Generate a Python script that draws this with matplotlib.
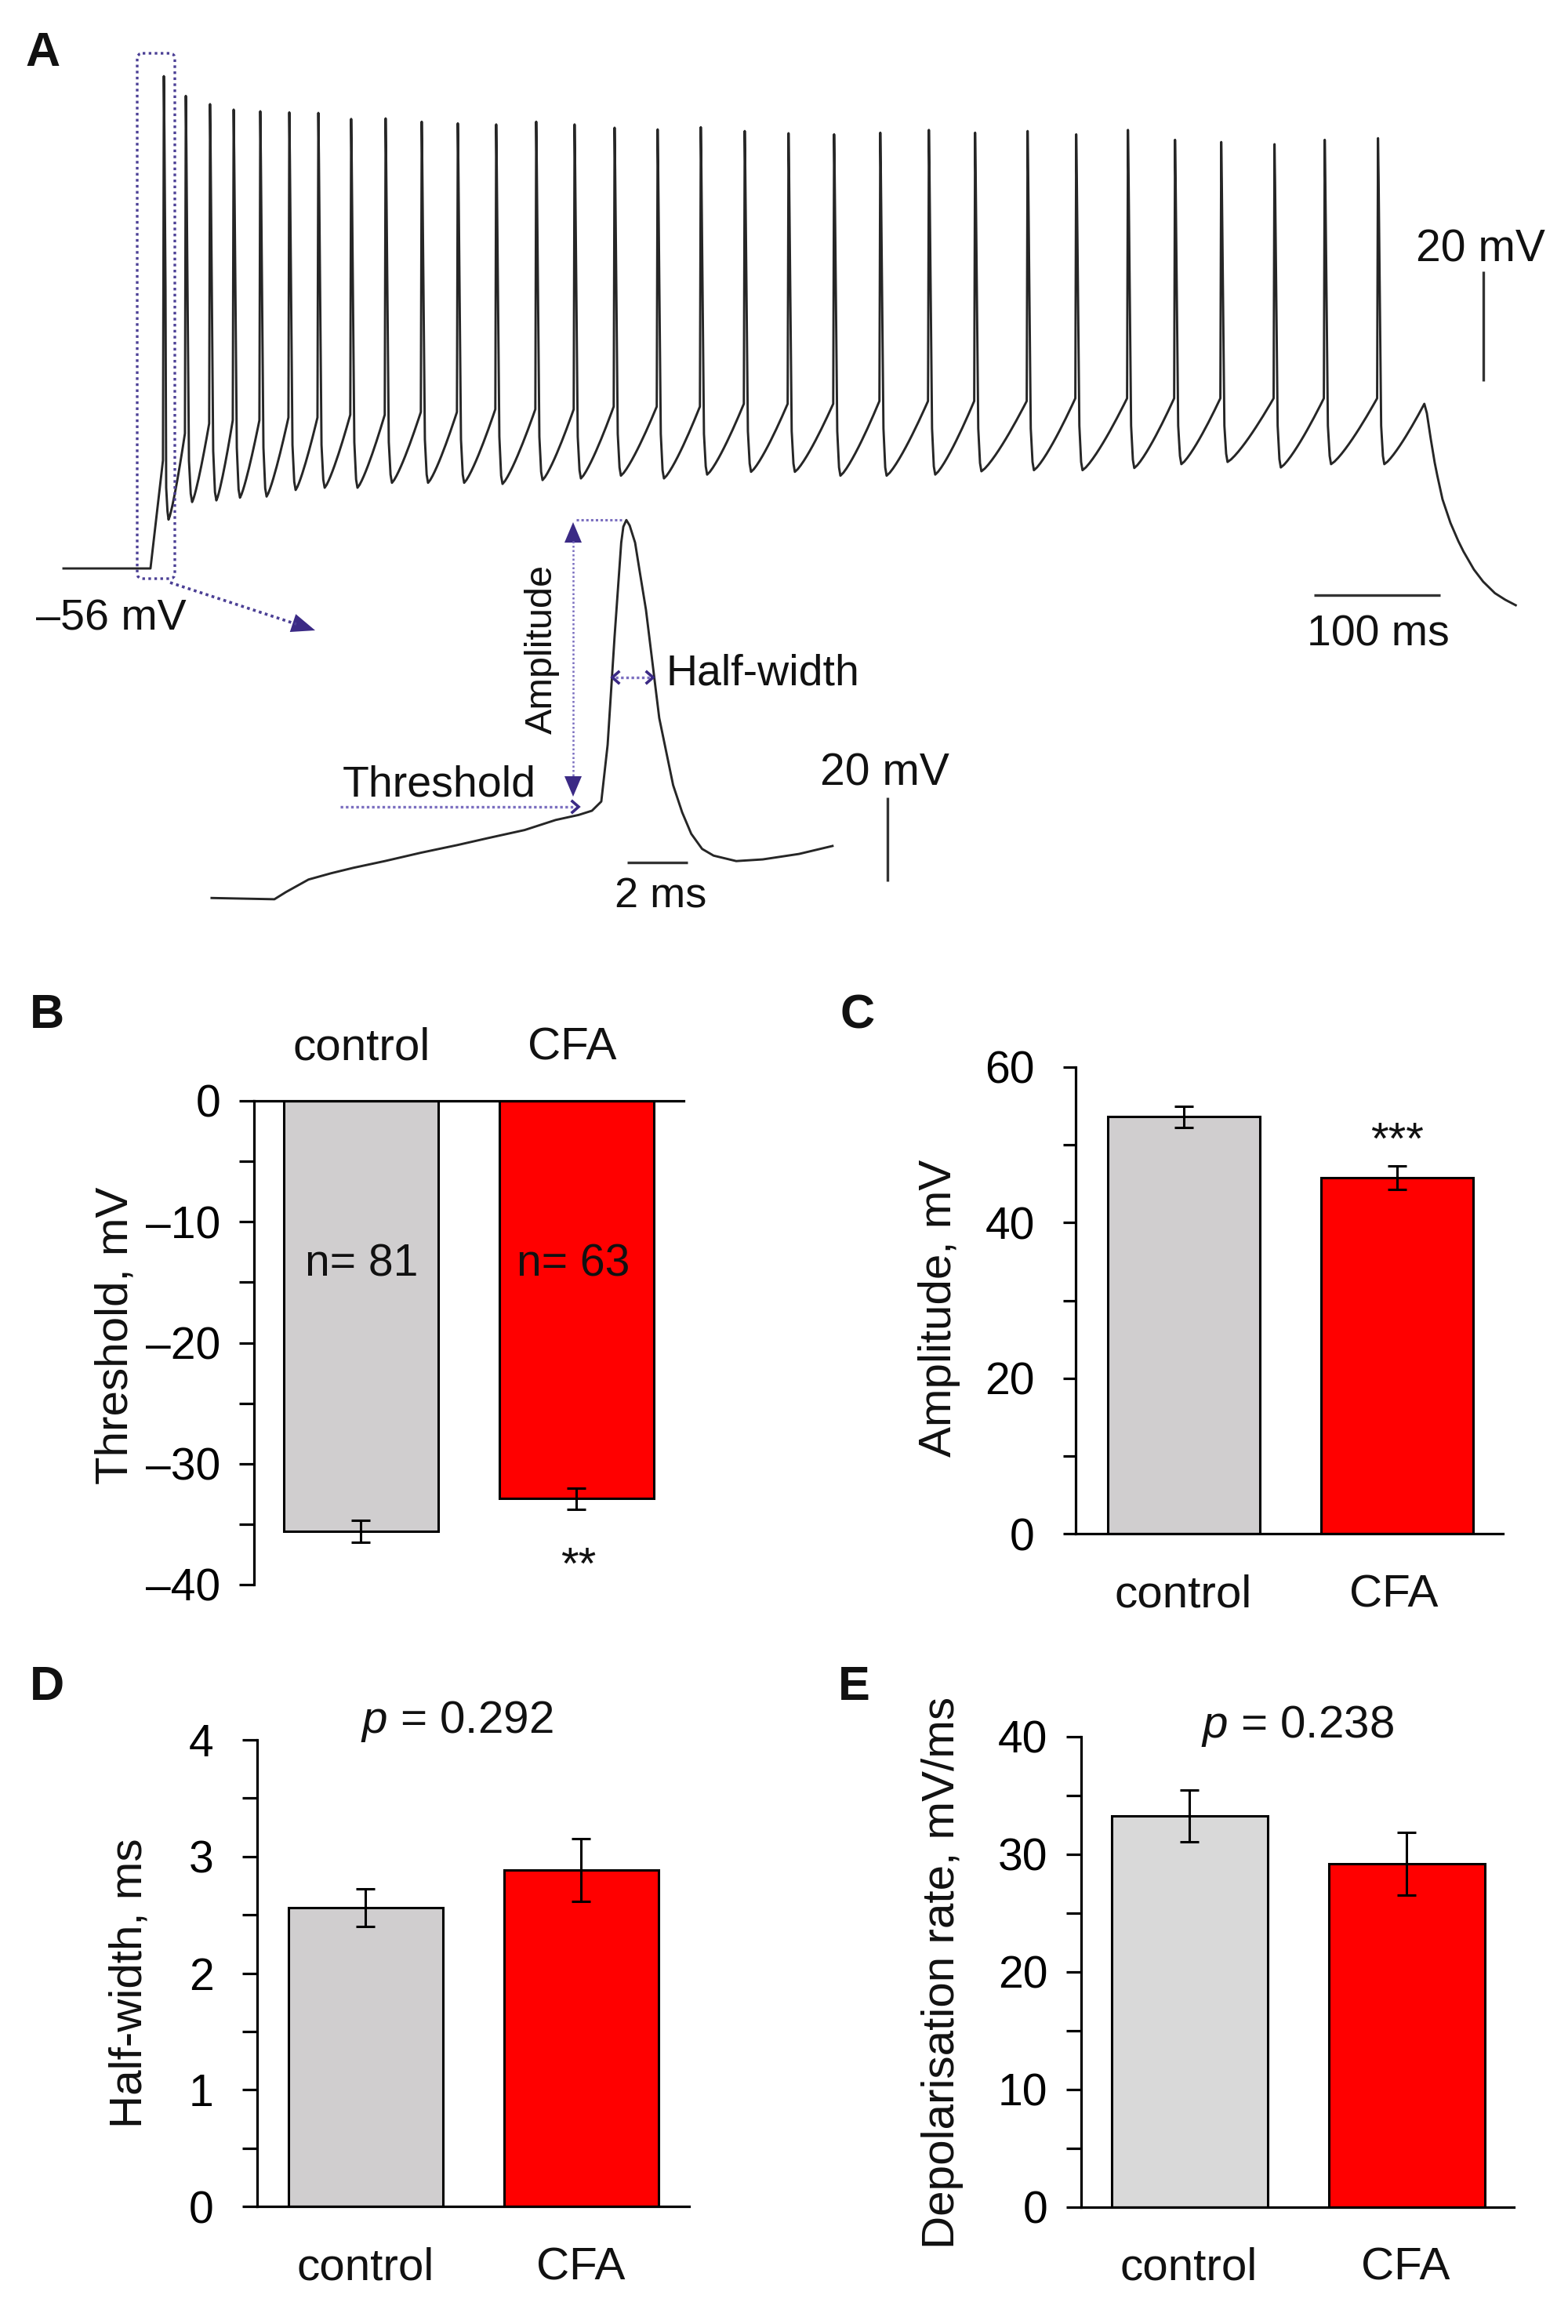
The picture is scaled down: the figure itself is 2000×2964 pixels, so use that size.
import numpy as np
import matplotlib
matplotlib.use('Agg')
import matplotlib.pyplot as plt
from matplotlib.patches import FancyBboxPatch
from matplotlib.ticker import FuncFormatter, MultipleLocator

plt.rcParams['font.family'] = ['Liberation Sans', 'DejaVu Sans']
plt.rcParams['mathtext.fontset'] = 'custom'
plt.rcParams['mathtext.it'] = 'Liberation Sans:italic'
plt.rcParams['mathtext.rm'] = 'Liberation Sans'

W, H = 2000, 2964

# ---------------- Panel A data ----------------
baseline_mv = -56.0
stim_on_ms = 68.9
spike_times = [79.5, 96.9, 116.1, 134.8, 155.9, 178.9, 201.9, 227.9, 255.2, 283.8,
               312.4, 342.8, 374.5, 404.9, 436.6, 470.7, 504.9, 539.7, 574.4, 610.5,
               647.1, 685.6, 722.2, 763.8, 802.3, 843.3, 880.6, 917.2, 959.4, 999.2, 1041.4]
spike_peaks = [33.7, 30.1, 28.6, 27.6, 27.3, 27.1, 27.0, 25.9, 26.0, 25.4,
               25.1, 24.9, 25.4, 24.9, 24.3, 24.0, 24.4, 23.7, 23.3, 23.1,
               23.4, 23.9, 23.4, 23.7, 23.1, 23.9, 22.1, 21.7, 21.3, 22.1, 22.4]
spike_thresholds = [-36.3, -31.4, -29.6, -29.0, -29.0, -28.5, -28.5, -28.0, -28.0, -27.5,
                    -27.5, -27.0, -27.0, -27.0, -26.5, -26.5, -26.5, -26.0, -26.0, -26.0,
                    -25.5, -25.5, -25.5, -25.5, -25.0, -25.0, -25.0, -25.0, -25.0, -25.0, -25.0]
ahp_troughs = [-47.1, -43.9, -43.6, -43.1, -42.9, -41.7, -41.3, -41.3, -40.4, -40.4,
               -40.4, -40.6, -39.9, -39.6, -39.1, -39.6, -38.9, -38.4, -38.4, -39.1,
               -39.1, -38.9, -38.3, -38.1, -38.1, -37.7, -37.0, -36.6, -37.6, -37.0, -37.0]
offset_t = [1078.1, 1080.1, 1083.2, 1086.3, 1088.4, 1092.5, 1098.8, 1105.0, 1109.1,
            1117.4, 1124.7, 1134.0, 1142.2, 1150.5]
offset_v = [-26.0, -27.7, -32.4, -36.7, -39.1, -43.4, -47.7, -51.0, -52.9,
            -56.2, -58.4, -60.5, -61.7, -62.7]

# inset: first spike, expanded (ms relative to step onset, mV)
inset_t = [-2.08, 0.0, 0.38, 1.13, 1.88, 2.62, 3.66, 4.86, 6.05, 7.09, 8.29, 9.32, 10.08,
           10.52, 10.83, 11.04, 11.27, 11.49, 11.56, 11.66, 11.77, 11.95, 12.09, 12.31,
           12.75, 13.21, 13.51, 13.81, 14.17, 14.55, 15.30, 16.18, 17.38, 18.49]
inset_v = [-55.8, -56.1, -54.4, -51.4, -49.9, -48.6, -47.0, -45.0, -43.2, -41.5, -39.6, -37.2, -36.0,
           -35.0, -32.8, -19.3, 6.5, 28.9, 32.7, 34.3, 33.0, 28.9, 22.6, 12.9,
           -12.9, -28.9, -35.4, -40.5, -44.1, -45.7, -47.0, -46.6, -45.3, -43.4]

# ---------------- Bar data ----------------
groups = ['control', 'CFA']
threshold_mean = [-35.6, -32.9]
threshold_sem = [0.9, 0.85]
threshold_n = [81, 63]
amplitude_mean = [53.6, 45.8]
amplitude_sem = [1.4, 1.5]
halfwidth_mean = [2.56, 2.885]
halfwidth_sem = [0.16, 0.27]
deprate_mean = [33.3, 29.2]
deprate_sem = [2.2, 2.65]

GRAY = '#d0cecf'
GRAY_E = '#d9d9d9'
RED = '#ff0000'
PURPLE = '#3b2a85'
PURPLE_L = '#7b6fc0'
TRACE = '#262626'

fig = plt.figure(figsize=(W / 100, H / 100), dpi=100)


def px_axes(x0, y0, x1, y1, **kw):
    return fig.add_axes([x0 / W, 1 - y1 / H, (x1 - x0) / W, (y1 - y0) / H], **kw)


# ---------------- build main trace from the read values ----------------
def build_trace():
    tt = [0.0, stim_on_ms]
    vv = [baseline_mv, baseline_mv]
    n = len(spike_times)
    for k in range(n):
        tk, pk, th, tr = spike_times[k], spike_peaks[k], spike_thresholds[k], ahp_troughs[k]
        ahp_d = 3.7 if k == 0 else 5.0
        pts = [(tk - 0.7, th), (tk - 0.3, th + 0.55 * (pk - th)), (tk, pk),
               (tk + 0.45, pk - 0.15 * (pk - th)), (tk + 1.3, pk - 0.55 * (pk - th)),
               (tk + ahp_d * 0.5, th - 5), (tk + ahp_d * 0.78, tr + 1.5), (tk + ahp_d, tr)]
        for a, b in pts:
            tt.append(a)
            vv.append(b)
        t_a = tk + ahp_d
        if k < n - 1:
            t_b, v_b = spike_times[k + 1] - 0.7, spike_thresholds[k + 1]
        else:
            t_b, v_b = offset_t[0], offset_v[0]
        for s in np.linspace(0, 1, 14)[1:-1]:
            tt.append(t_a + s * (t_b - t_a))
            vv.append(tr + (v_b - tr) * s ** 1.25)
    tt += offset_t
    vv += offset_v
    return np.array(tt), np.array(vv)


# main trace axes: 0 ms at x=81px, 1.61 px/ms ; -56 mV at y=725px, 7 px/mV
ax_tr = px_axes(0, 0, 2000, 1200)
ax_tr.set_xlim((0 - 81) / 1.61, (2000 - 81) / 1.61)
ax_tr.set_ylim(-56 - (1200 - 725) / 7.0, -56 + 725 / 7.0)
ax_tr.axis('off')
ax_tr.patch.set_alpha(0)
t_tr, v_tr = build_trace()
ax_tr.plot(t_tr, v_tr, color=TRACE, lw=2.1, solid_joinstyle='round')
# scale bars 100 ms / 20 mV
ax_tr.plot([990.7, 1090.7], [-60.9, -60.9], color='#333333', lw=2.4, solid_capstyle='butt')
ax_tr.plot([1124.8, 1124.8], [-21.9, -1.9], color='#333333', lw=2.4, solid_capstyle='butt')

# inset axes: t=0 at x=350px, 38.5 px/ms ; -35 mV at y=1034px, 5.35 px/mV
ax_in = px_axes(250, 640, 1200, 1200)
ax_in.set_xlim((250 - 350) / 38.5, (1200 - 350) / 38.5)
ax_in.set_ylim(-35 - (1200 - 1034) / 5.35, -35 + (1034 - 640) / 5.35)
ax_in.axis('off')
ax_in.patch.set_alpha(0)
ax_in.plot(inset_t, inset_v, color=TRACE, lw=2.1, solid_joinstyle='round')
ax_in.plot([11.69, 13.69], [-47.3, -47.3], color='#333333', lw=2.4, solid_capstyle='butt')
ax_in.plot([20.31, 20.31], [-51.8, -31.8], color='#333333', lw=2.4, solid_capstyle='butt')


# ---------------- bar panels ----------------
def dash_fmt(v, p):
    s = f"{v:.0f}"
    return s.replace('-', '\u2013')


def style_bar_axes(ax, pad, ticklen):
    for sp in ax.spines.values():
        sp.set_linewidth(2.3)
    ax.tick_params(axis='y', which='both', direction='out', length=ticklen, width=2.3,
                   labelsize=41, pad=pad)
    ax.set_xticks([])
    ax.patch.set_alpha(0)


def draw_bars(ax, means, sems, colors, width):
    ax.bar([0, 1], means, width=width, color=colors, edgecolor='black', linewidth=2.2,
           yerr=sems, capsize=8.5, error_kw=dict(elinewidth=2.2, capthick=2.2, ecolor='black'),
           zorder=1)


# B
axB = px_axes(324, 1404, 872, 2021)
draw_bars(axB, threshold_mean, threshold_sem, [GRAY, RED], 197 / 275)
axB.set_xlim(-(460 - 324) / 275, 1 + (872 - 735) / 275)
axB.set_ylim(-40, 0)
axB.spines['bottom'].set_visible(False)
axB.spines['right'].set_visible(False)
axB.yaxis.set_major_locator(MultipleLocator(10))
axB.yaxis.set_minor_locator(MultipleLocator(5))
axB.yaxis.set_major_formatter(FuncFormatter(dash_fmt))
style_bar_axes(axB, 17, 13.7)

# C
axC = px_axes(1372, 1361, 1917, 1956)
draw_bars(axC, amplitude_mean, amplitude_sem, [GRAY, RED], 194 / 272)
axC.set_xlim(-(1510 - 1372) / 272, 1 + (1917 - 1782) / 272)
axC.set_ylim(0, 60)
axC.spines['top'].set_visible(False)
axC.spines['right'].set_visible(False)
axC.yaxis.set_major_locator(MultipleLocator(20))
axC.yaxis.set_minor_locator(MultipleLocator(10))
style_bar_axes(axC, 26, 11.5)

# D
axD = px_axes(328, 2219, 879, 2814)
draw_bars(axD, halfwidth_mean, halfwidth_sem, [GRAY, RED], 197 / 275)
axD.set_xlim(-(466 - 328) / 275, 1 + (879 - 741) / 275)
axD.set_ylim(0, 4)
axD.spines['top'].set_visible(False)
axD.spines['right'].set_visible(False)
axD.yaxis.set_major_locator(MultipleLocator(1))
axD.yaxis.set_minor_locator(MultipleLocator(0.5))
axD.yaxis.set_major_formatter(FuncFormatter(dash_fmt))
style_bar_axes(axD, 26, 13.7)

# E
axE = px_axes(1379, 2215, 1931, 2815)
draw_bars(axE, deprate_mean, deprate_sem, [GRAY_E, RED], 199 / 277)
axE.set_xlim(-(1517 - 1379) / 277, 1 + (1931 - 1794) / 277)
axE.set_ylim(0, 40)
axE.spines['top'].set_visible(False)
axE.spines['right'].set_visible(False)
axE.yaxis.set_major_locator(MultipleLocator(10))
axE.yaxis.set_minor_locator(MultipleLocator(5))
style_bar_axes(axE, 17, 13.7)

# ---------------- overlay for text and annotation (pixel coords) ----------------
ov = fig.add_axes([0, 0, 1, 1], zorder=10)
ov.set_xlim(0, W)
ov.set_ylim(H, 0)
ov.axis('off')
ov.patch.set_alpha(0)


def T(x, y, s, size=42, **kw):
    kw.setdefault('ha', 'center')
    kw.setdefault('va', 'baseline')
    ov.text(x, y, s, fontsize=size, color='#111111', **kw)


# panel letters
for (lx, ly, letter) in [(32, 84, 'A'), (38, 1311, 'B'), (1072, 1311, 'C'),
                         (38, 2168, 'D'), (1069, 2168, 'E')]:
    T(lx, ly, letter, size=44, fontweight='bold', ha='left')

# panel A texts
T(46, 804, '\u201356 mV', size=40, ha='left')
T(1888, 334, '20 mV', size=41)
T(1758, 823, '100 ms', size=40)
T(437, 1015, 'Threshold', size=40, ha='left')
T(850, 874, 'Half-width', size=40, ha='left')
T(691, 828, 'Amplitude', size=35, rotation=90, va='center')
T(843, 1157, '2 ms', size=39)
T(1128, 1002, '20 mV', size=41)

# dotted box around first spike
box = FancyBboxPatch((175, 68), 48, 670, boxstyle='round,pad=0,rounding_size=7',
                     fill=False, ec='#4b3f95', lw=2.4, ls=(0, (1, 1.3)))
ov.add_patch(box)

# dotted arrow from box to inset
ov.plot([217, 378], [743, 796], color='#4b3f95', lw=2.6, ls=(0, (1, 1.2)))
tip = np.array([402.0, 804.0])
d = np.array([185.0, 61.0]); d /= np.hypot(*d)
pp = np.array([-d[1], d[0]])
base = tip - 30 * d
ov.fill([tip[0], base[0] + 12 * pp[0], base[0] - 12 * pp[0]],
        [tip[1], base[1] + 12 * pp[1], base[1] - 12 * pp[1]], color=PURPLE, lw=0)

# amplitude arrow
ov.plot([731, 731], [690, 992], color=PURPLE_L, lw=1.8, ls=(0, (1, 1.2)))
ov.fill([731, 720, 742], [666, 692, 692], color=PURPLE, lw=0)
ov.fill([731, 720, 742], [1016, 990, 990], color=PURPLE, lw=0)
ov.plot([735, 793], [663, 663], color=PURPLE_L, lw=2.2, ls=(0, (1, 1.0)))

# threshold arrow
ov.plot([434, 734], [1029, 1029], color=PURPLE_L, lw=2.4, ls=(0, (1, 1.0)))
ov.plot([730, 738, 730], [1022, 1029, 1036], color=PURPLE, lw=2.6, solid_joinstyle='miter')

# half-width arrow
ov.plot([785, 829], [864, 864], color=PURPLE_L, lw=2.4, ls=(0, (1, 1.0)))
ov.plot([789, 781, 789], [857, 864, 871], color=PURPLE, lw=2.6, solid_joinstyle='miter')
ov.plot([825, 833, 825], [857, 864, 871], color=PURPLE, lw=2.6, solid_joinstyle='miter')

# panel B texts
T(461, 1352, groups[0])
T(730, 1352, groups[1])
T(461, 1628, f'n= {threshold_n[0]}', size=41)
T(731, 1628, f'n= {threshold_n[1]}', size=41)
T(738, 2014, '**', size=42)
T(148, 1703, 'Threshold, mV', rotation=90, va='center')

# panel C texts
T(1509, 2049, groups[0])
T(1778, 2049, groups[1])
T(1782, 1472, '***', size=42)
T(1198, 1668, 'Amplitude, mV', rotation=90, va='center')

# panel D texts
T(466, 2907, groups[0])
T(741, 2907, groups[1])
T(583, 2210, r'$\it{p}$ = 0.292')
T(166, 2529, 'Half-width, ms', rotation=90, va='center')

# panel E texts
T(1516, 2907, groups[0])
T(1793, 2907, groups[1])
T(1655, 2216, r'$\it{p}$ = 0.238')
T(1202, 2516, 'Depolarisation rate, mV/ms', rotation=90, va='center')

fig.savefig('out.png', dpi=100)
